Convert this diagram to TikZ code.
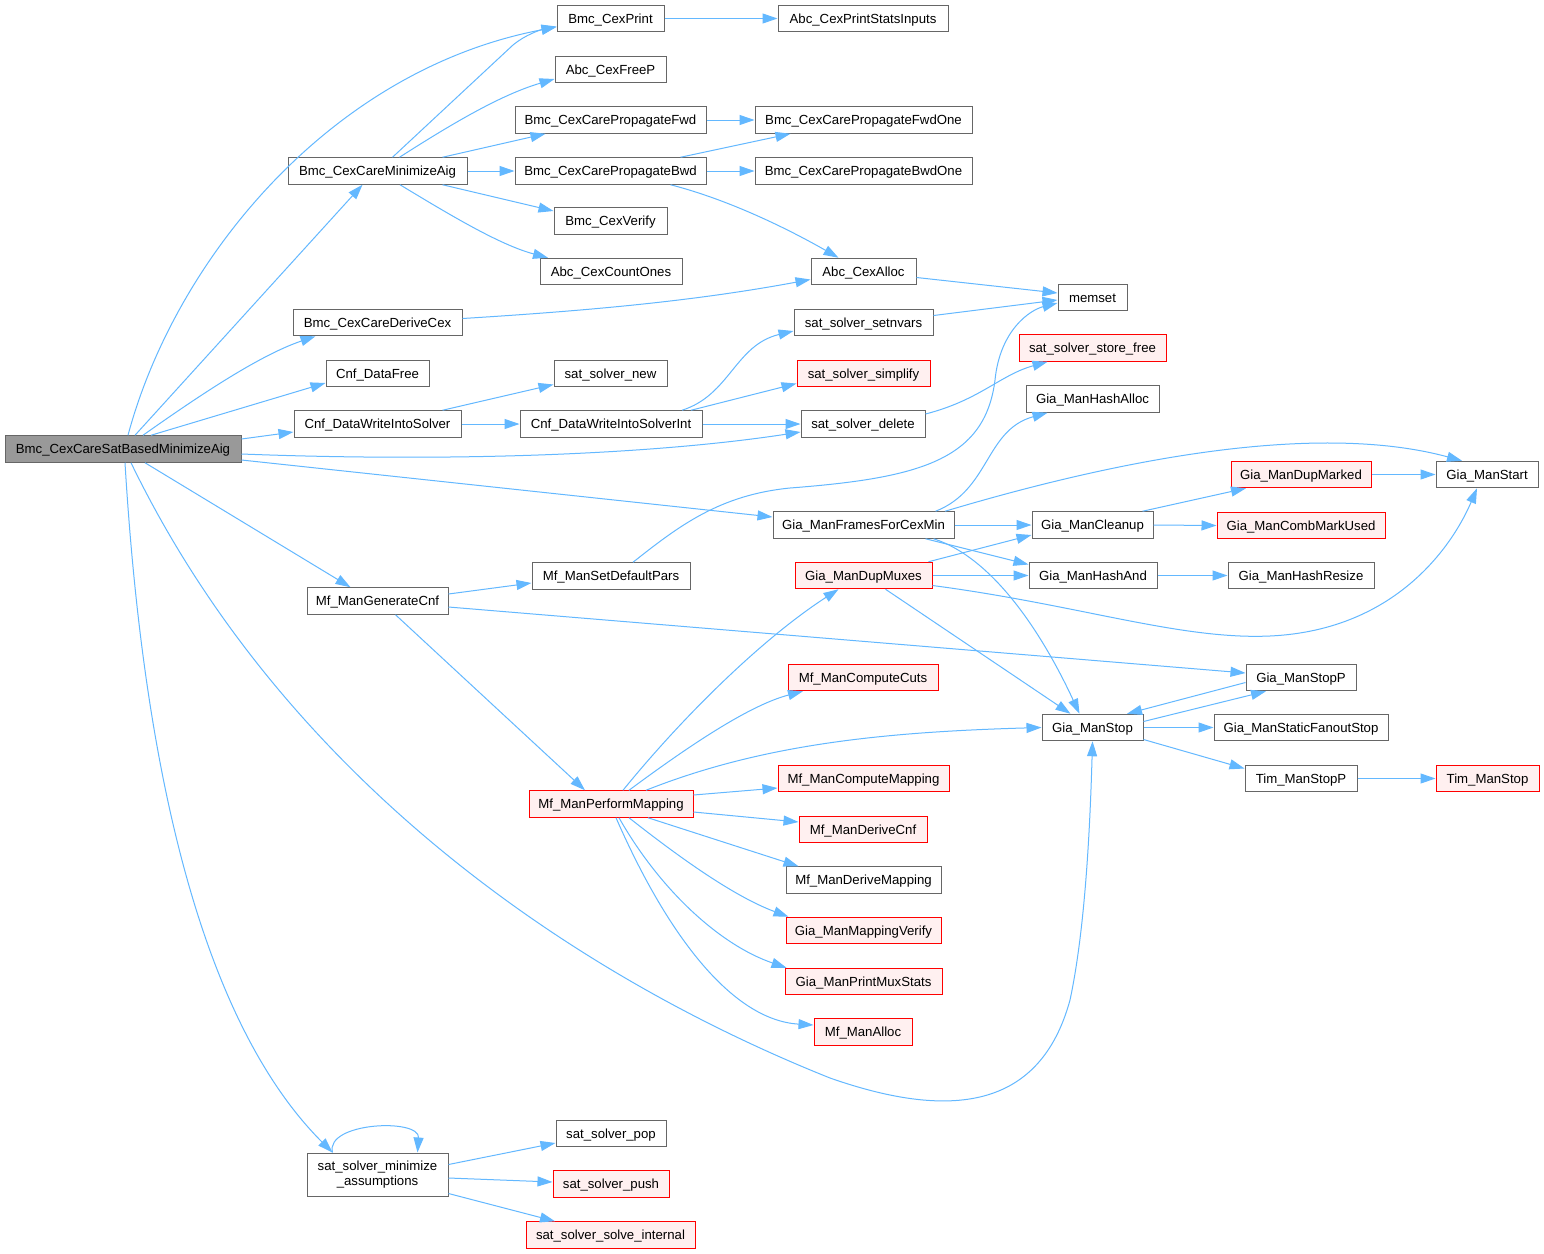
\documentclass[tikz,border=0pt]{standalone}
\usepackage{fontspec}
\setmainfont{Liberation Sans}
\usetikzlibrary{arrows.meta}
\definecolor{edgec}{HTML}{63B8FF}
\definecolor{bord}{HTML}{666666}
\definecolor{redb}{HTML}{FF0000}
\definecolor{redf}{HTML}{FFF0F0}
\definecolor{mainf}{HTML}{999999}
\begin{document}
\begin{tikzpicture}[x=1pt,y=-1pt,
 fn/.style={draw=bord,line width=1pt,fill=white,minimum height=26.5pt,inner sep=0pt,text height=10.5pt,text depth=1pt,font=\fontsize{13.2}{15.5}\selectfont},
 fnred/.style={fn,draw=redb,fill=redf},
 fnmain/.style={fn,fill=mainf},
 e/.style={draw=edgec,line width=1pt,-{Triangle[length=15pt,width=10pt]}}]
\useasboundingbox[fill=white] (0,0) rectangle (1544,1253);

% column 0
\node[fnmain,minimum width=236pt] (M) at (123,449) {Bmc\_CexCareSatBasedMinimizeAig};
% column 1
\node[fn,minimum width=179pt] (CM) at (377.5,171) {Bmc\_CexCareMinimizeAig};
\node[fn,minimum width=169pt] (DC) at (377.5,322.5) {Bmc\_CexCareDeriveCex};
\node[fn,minimum width=103pt] (DF) at (377.5,373.5) {Cnf\_DataFree};
\node[fn,minimum width=167pt] (WS) at (377.5,424) {Cnf\_DataWriteIntoSolver};
\node[fn,minimum width=141pt] (GC) at (377.5,601) {Mf\_ManGenerateCnf};
\node[fn,minimum width=141pt,minimum height=43pt,text height={},text depth={},align=center] (MA) at (377.5,1174.5) {sat\_solver\_minimize\\\_assumptions};
% column 2
\node[fn,minimum width=107pt] (CP) at (610.5,18.5) {Bmc\_CexPrint};
\node[fn,minimum width=111pt] (FP) at (610.5,69.5) {Abc\_CexFreeP};
\node[fn,minimum width=191pt] (PF) at (610.5,120) {Bmc\_CexCarePropagateFwd};
\node[fn,minimum width=191pt] (PB) at (610.5,171) {Bmc\_CexCarePropagateBwd};
\node[fn,minimum width=113pt] (CV) at (610.5,221) {Bmc\_CexVerify};
\node[fn,minimum width=142pt] (CO) at (611,271.5) {Abc\_CexCountOnes};
\node[fn,minimum width=113pt] (SN) at (610.5,373.5) {sat\_solver\_new};
\node[fn,minimum width=182pt] (WI) at (611,424) {Cnf\_DataWriteIntoSolverInt};
\node[fn,minimum width=158pt] (SD) at (611,576) {Mf\_ManSetDefaultPars};
\node[fnred,minimum width=164pt] (PM) at (611,804) {Mf\_ManPerformMapping};
\node[fn,minimum width=110pt] (POP) at (611,1133.5) {sat\_solver\_pop};
\node[fnred,minimum width=116pt] (PUSH) at (611,1184) {sat\_solver\_push};
\node[fnred,minimum width=169pt] (SI) at (610.5,1235) {sat\_solver\_solve\_internal};
% column 3
\node[fn,minimum width=170pt] (PSI) at (863,18.5) {Abc\_CexPrintStatsInputs};
\node[fn,minimum width=217pt] (PFO) at (863.5,120) {Bmc\_CexCarePropagateFwdOne};
\node[fn,minimum width=217pt] (PBO) at (863.5,171) {Bmc\_CexCarePropagateBwdOne};
\node[fn,minimum width=105pt] (CA) at (863.5,271.5) {Abc\_CexAlloc};
\node[fn,minimum width=139pt] (SV) at (863.5,322.5) {sat\_solver\_setnvars};
\node[fnred,minimum width=133pt] (SS) at (863.5,373.5) {sat\_solver\_simplify};
\node[fn,minimum width=124pt] (SDel) at (863,424) {sat\_solver\_delete};
\node[fn,minimum width=181pt] (FF) at (863.5,525) {Gia\_ManFramesForCexMin};
\node[fnred,minimum width=137pt] (DM) at (863.5,575.5) {Gia\_ManDupMuxes};
\node[fnred,minimum width=150pt] (CC) at (863,677.5) {Mf\_ManComputeCuts};
\node[fnred,minimum width=171pt] (CMap) at (863.5,778.5) {Mf\_ManComputeMapping};
\node[fnred,minimum width=128pt] (DCnf) at (863,829.5) {Mf\_ManDeriveCnf};
\node[fn,minimum width=155pt] (DMap) at (863.5,880) {Mf\_ManDeriveMapping};
\node[fnred,minimum width=155pt] (MV) at (863.5,930.5) {Gia\_ManMappingVerify};
\node[fnred,minimum width=157pt] (PMS) at (863.5,981.5) {Gia\_ManPrintMuxStats};
\node[fnred,minimum width=98pt] (MAl) at (863,1032) {Mf\_ManAlloc};
% column 4
\node[fn,minimum width=69pt] (MS) at (1092.5,297.5) {memset};
\node[fnred,minimum width=147pt] (SSF) at (1092.5,348) {sat\_solver\_store\_free};
\node[fn,minimum width=133pt] (HA) at (1092.5,399) {Gia\_ManHashAlloc};
\node[fn,minimum width=121pt] (CL) at (1092.5,525) {Gia\_ManCleanup};
\node[fn,minimum width=128pt] (HAnd) at (1093,575.5) {Gia\_ManHashAnd};
\node[fn,minimum width=101pt] (GS) at (1092.5,727.5) {Gia\_ManStop};
% column 5
\node[fnred,minimum width=140pt] (DMk) at (1301,474.5) {Gia\_ManDupMarked};
\node[fnred,minimum width=168pt] (CMU) at (1301,525.5) {Gia\_ManCombMarkUsed};
\node[fn,minimum width=146pt] (HR) at (1301,575.5) {Gia\_ManHashResize};
\node[fn,minimum width=110pt] (SP) at (1301,677.5) {Gia\_ManStopP};
\node[fn,minimum width=174pt] (SFS) at (1301,727.5) {Gia\_ManStaticFanoutStop};
\node[fn,minimum width=112pt] (TSP) at (1301,778.5) {Tim\_ManStopP};
% column 6
\node[fn,minimum width=102pt] (ST) at (1487,474.5) {Gia\_ManStart};
\node[fnred,minimum width=103pt] (TS) at (1487.5,778.5) {Tim\_ManStop};

% edges from main node
\draw[e] ([xshift=5]M.north) .. controls (175,260) and (330,70) .. ([yshift=-8.5]CP.west);
\draw[e] ([xshift=12]M.north) -- ([xshift=-15]CM.south);
\draw[e] ([xshift=20]M.north) .. controls (200,395) and (260,355) .. ([xshift=-62]DC.south);
\draw[e] ([xshift=28]M.north) -- ([yshift=-9.5]DF.west);
\draw[e] ([yshift=10]M.east) -- ([yshift=-8]WS.west);
\draw[e] ([yshift=-5]M.east) .. controls (450,462) and (650,455) .. ([yshift=-8]SDel.west);
\draw[e] ([yshift=-11]M.east) -- ([yshift=8]FF.west);
\draw[e] ([xshift=22]M.south) -- ([xshift=-27]GC.north);
\draw[e] ([xshift=8]M.south) .. controls (280,770) and (560,970) .. (830,1078)
  .. controls (950,1120) and (1040,1110) .. (1070,1000)
  .. controls (1085,930) and (1090,830) .. (GS.south);
\draw[e] ([xshift=2]M.south) .. controls (150,880) and (240,1060) .. ([xshift=-45]MA.north);

% Bmc_CexCareMinimizeAig
\draw[e] ([xshift=15]CM.north) -- (513,45) .. controls (525,35) and (540,30) .. ([yshift=-8]CP.west);
\draw[e] ([xshift=22]CM.north) .. controls (450,125) and (500,95) .. ([yshift=-9.5]FP.west);
\draw[e] ([xshift=65]CM.north) -- ([xshift=-65]PF.south);
\draw[e] (CM.east) -- (PB.west);
\draw[e] ([xshift=65]CM.south) -- ([yshift=10]CV.west);
\draw[e] ([xshift=22.5]CM.south) .. controls (450,215) and (500,245) .. ([xshift=-63]CO.north);

\draw[e] (PF.east) -- (PFO.west);
\draw[e] ([xshift=70]PB.north) -- ([xshift=-73]PFO.south);
\draw[e] (PB.east) -- (PBO.west);
\draw[e] ([xshift=60]PB.south) .. controls (730,200) and (790,230) .. ([xshift=-25]CA.north);
\draw[e] (CP.east) -- (PSI.west);
\draw[e] ([yshift=-6]CA.east) -- ([yshift=4.5]MS.west);
\draw[e] ([yshift=4]DC.east) .. controls (600,310) and (700,300) .. ([yshift=-8]CA.west);
\draw[e] ([yshift=7]SV.east) -- ([yshift=-2.5]MS.west);
\draw[e] ([xshift=22]SD.north) .. controls (680,525) and (720,495) .. (790,488)
  .. controls (920,478) and (985,460) .. (995,380)
  .. controls (1000,330) and (1030,310) .. ([yshift=-5.5]MS.west);

\draw[e] ([xshift=65]WS.north) -- ([yshift=-11]SN.west);
\draw[e] (WS.east) -- (WI.west);
\draw[e] ([xshift=71]WI.north) .. controls (730,395) and (735,345) .. ([yshift=-8.5]SV.west);
\draw[e] ([xshift=80]WI.north) -- ([yshift=-10]SS.west);
\draw[e] (WI.east) -- (SDel.west);
\draw[e] ([yshift=10]SDel.east) .. controls (980,400) and (1000,375) .. ([xshift=-45]SSF.south);

% Gia_ManFramesForCexMin
\draw[e] ([xshift=72]FF.north) .. controls (990,490) and (985,430) .. ([xshift=-45]HA.south);
\draw[e] ([xshift=81.5]FF.north) .. controls (1150,450) and (1330,425) .. ([xshift=-25]ST.north);
\draw[e] (FF.east) -- (CL.west);
\draw[e] ([xshift=62]FF.south) -- ([yshift=11]HAnd.west);
\draw[e] ([xshift=70]FF.south) .. controls (1000,560) and (1050,650) .. ([xshift=-13]GS.north);

% Gia_ManDupMuxes
\draw[e] ([xshift=65]DM.north) -- ([yshift=-10]CL.west);
\draw[e] (DM.east) -- (HAnd.west);
\draw[e] ([yshift=-10]DM.east) .. controls (1080,605) and (1180,640) .. (1270,636)
  .. controls (1400,630) and (1455,540) .. ([xshift=-10]ST.south);
\draw[e] ([xshift=22]DM.south) -- ([xshift=-22]GS.north);

\draw[e] ([xshift=50]CL.north) -- ([xshift=-55]DMk.south);
\draw[e] (CL.east) -- (CMU.west);
\draw[e] (HAnd.east) -- (HR.west);
\draw[e] (DMk.east) -- (ST.west);

% Mf_ManGenerateCnf
\draw[e] ([yshift=7]GC.east) -- ([yshift=-7]SD.west);
\draw[e] ([yshift=-6]GC.east) -- ([yshift=4.5]SP.west);
\draw[e] ([xshift=18]GC.south) -- ([xshift=-26]PM.north);

% Mf_ManPerformMapping
\draw[e] ([xshift=12]PM.north) .. controls (680,720) and (760,640) .. ([xshift=-25]DM.south);
\draw[e] ([xshift=18]PM.north) .. controls (690,745) and (750,705) .. ([xshift=-60]CC.south);
\draw[e] ([xshift=35]PM.north) .. controls (760,745) and (880,732) .. (GS.west);
\draw[e] ([yshift=9]PM.east) -- ([yshift=-9.5]CMap.west);
\draw[e] ([yshift=-8]PM.east) -- ([yshift=7.5]DCnf.west);
\draw[e] ([xshift=37]PM.south) -- ([xshift=-65]DMap.north);
\draw[e] ([xshift=18]PM.south) .. controls (670,850) and (730,895) .. ([xshift=-75]MV.north);
\draw[e] ([xshift=8]PM.south) .. controls (660,890) and (720,945) .. ([xshift=-77]PMS.north);
\draw[e] ([xshift=5]PM.south) .. controls (665,930) and (730,1020) .. ([yshift=7]MAl.west);

% Gia_ManStop
\draw[e] ([yshift=6]GS.east) -- ([xshift=-35]SP.south);
\draw[e] ([yshift=-5]SP.west) -- ([xshift=34.5]GS.north);
\draw[e] (GS.east) -- (SFS.west);
\draw[e] ([yshift=-12]GS.east) -- ([yshift=10]TSP.west);
\draw[e] (TSP.east) -- (TS.west);

% sat_solver_minimize_assumptions
\draw[e] ([xshift=-45]MA.north) .. controls (325,1122) and (420,1118) .. ([xshift=40]MA.north);
\draw[e] ([yshift=10]MA.east) -- ([yshift=-9.5]POP.west);
\draw[e] ([yshift=-3.5]MA.east) -- ([yshift=2]PUSH.west);
\draw[e] ([yshift=-19]MA.east) -- ([xshift=-55.5]SI.north);
\end{tikzpicture}
\end{document}
